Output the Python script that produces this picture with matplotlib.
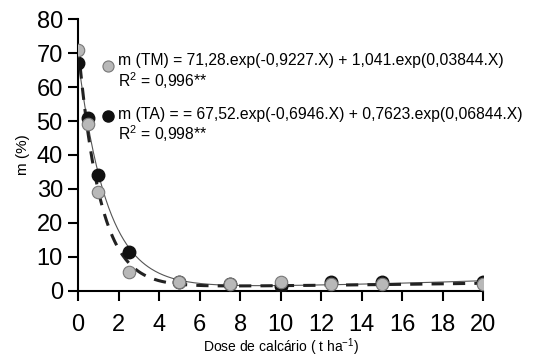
import numpy as np
import matplotlib.pyplot as plt

plt.rcParams['font.family'] = ['Liberation Sans', 'DejaVu Sans']

dose = [0, 0.5, 1, 2.5, 5, 7.5, 10, 12.5, 15, 20]
m_tm = [71, 49, 29, 5.5, 2.5, 2.0, 2.5, 2.0, 2.0, 2.0]
m_ta = [67, 51, 34, 11.5, 2.5, 2.0, 1.5, 2.5, 2.5, 2.5]

# fitted model parameters (from the equations on the chart)
tm_par = [71.28, -0.9227, 1.041, 0.03844]
ta_par = [67.52, -0.6946, 0.7623, 0.06844]

def model(x, p):
    return p[0] * np.exp(p[1] * x) + p[2] * np.exp(p[3] * x)

fig = plt.figure(figsize=(5.35, 3.6), dpi=100)
ax = fig.add_axes([0.146, 0.192, 0.757, 0.755])

xx = np.linspace(0, 20, 400)
ax.plot(xx, model(xx, ta_par), color='#555555', lw=0.8, zorder=2)
ax.plot(xx, model(xx, tm_par), color='#222222', lw=2.2, ls=(0, (4, 3)), zorder=2)

ax.plot(dose, m_ta, 'o', ms=9, mfc='#111111', mec='#111111', zorder=3)
ax.plot(dose, m_tm, 'o', ms=9, mfc='#b8b8b8', mec='#777777', mew=0.8, zorder=4)

# equation labels
ax.plot([1.48], [66.2], 'o', ms=8, mfc='#b8b8b8', mec='#777777', mew=0.8, clip_on=False)
ax.text(1.98, 67.9, 'm (TM) = 71,28.exp(-0,9227.X) + 1,041.exp(0,03844.X)',
        fontsize=11.3, va='center', ha='left')
ax.text(1.98, 62.0, 'R$^\\mathregular{2}$ = 0,996**', fontsize=11.3, va='center', ha='left')
ax.plot([1.48], [51.5], 'o', ms=8, mfc='#111111', mec='#111111', clip_on=False)
ax.text(1.98, 51.8, 'm (TA) = = 67,52.exp(-0,6946.X) + 0,7623.exp(0,06844.X)',
        fontsize=11.3, va='center', ha='left')
ax.text(1.98, 46.2, 'R$^\\mathregular{2}$ = 0,998**', fontsize=11.3, va='center', ha='left')

ax.set_xlim(0, 20)
ax.set_ylim(0, 80)
ax.set_xticks(range(0, 21, 2))
ax.set_yticks(range(0, 81, 10))
ax.spines['top'].set_visible(False)
ax.spines['right'].set_visible(False)
ax.spines['left'].set_linewidth(1.5)
ax.spines['bottom'].set_linewidth(1.5)
ax.tick_params(axis='both', direction='out', length=7, width=1.5, labelsize=17)
ax.tick_params(axis='x', pad=10)
ax.tick_params(axis='y', pad=4)
ax.set_xlabel('Dose de calcário ( t ha$^\\mathregular{-1}$)', fontsize=10, labelpad=0)
ax.set_ylabel('m (%)', fontsize=11, labelpad=5)

plt.savefig('out.png', dpi=100)
